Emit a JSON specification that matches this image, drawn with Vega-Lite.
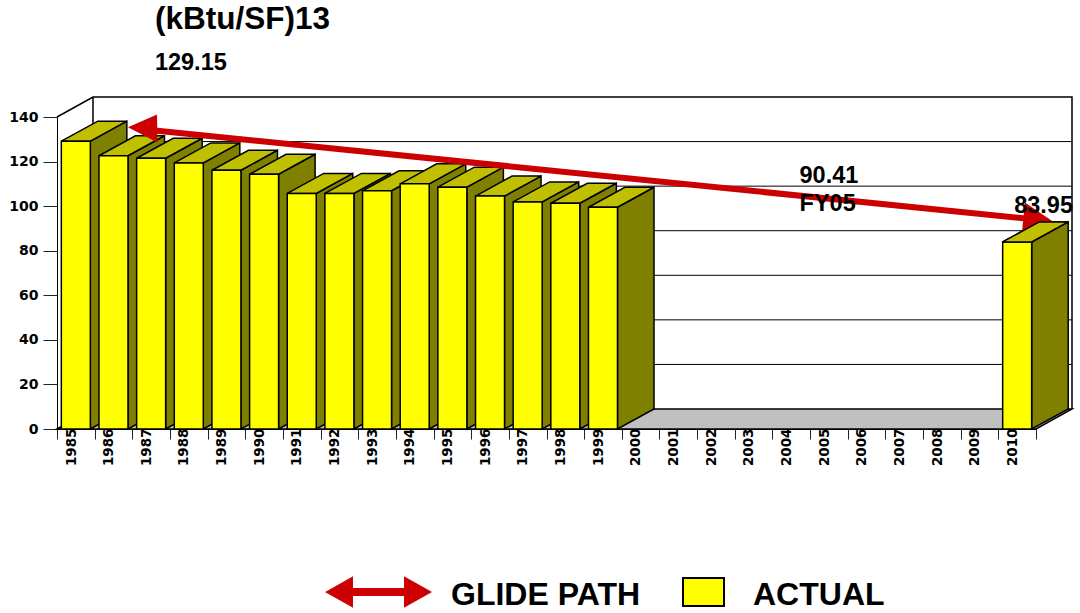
{
"$schema":"https://vega.github.io/schema/vega-lite/v6.json",
"width":979,"height":312,
"autosize":{"type":"none"},
"padding":{"left":57,"top":117,"right":44,"bottom":184},
"background":"white",
"config":{"view":{"stroke":null},"font":"Liberation Sans"},
"datasets":{
"bars":[{"year":1985,"value":129.15},{"year":1986,"value":122.6},{"year":1987,"value":121.5},{"year":1988,"value":119.4},{"year":1989,"value":116.1},{"year":1990,"value":114.3},{"year":1991,"value":105.7},{"year":1992,"value":105.7},{"year":1993,"value":106.9},{"year":1994,"value":110},{"year":1995,"value":108.5},{"year":1996,"value":104.5},{"year":1997,"value":101.9},{"year":1998,"value":101.3},{"year":1999,"value":99.5},{"year":2010,"value":83.95}],
"origin":[{"year":1984.5,"value":0}],
"ticks":[{"value":20,"year":1984.5,"end":2010.5},{"value":40,"year":1984.5,"end":2010.5},{"value":60,"year":1984.5,"end":2010.5},{"value":80,"year":1984.5,"end":2010.5},{"value":100,"year":1984.5,"end":2010.5},{"value":120,"year":1984.5,"end":2010.5}]
},
"encoding":{
"x":{"field":"year","type":"quantitative","title":null,"scale":{"domain":[1984.5,2010.5],"nice":false,"zero":false,"padding":0},
"axis":{"values":[1984.5,1985.5,1986.5,1987.5,1988.5,1989.5,1990.5,1991.5,1992.5,1993.5,1994.5,1995.5,1996.5,1997.5,1998.5,1999.5,2000.5,2001.5,2002.5,2003.5,2004.5,2005.5,2006.5,2007.5,2008.5,2009.5,2010.5],"labelExpr":"datum.value>2010 ? '' : format(datum.value+0.5,'d')","labelAngle":-90,"labelAlign":"right","labelBaseline":"middle","labelOffset":14,"labelPadding":-11,"tickSize":10,"tickColor":"#222","domainColor":"black","labelFont":"DejaVu Sans","labelFontWeight":"bold","labelFontSize":13.5,"labelColor":"black","grid":false,"labelOverlap":false,"labelBound":false,"labelFlush":false}},
"y":{"field":"value","type":"quantitative","title":null,"scale":{"domain":[0,140],"nice":false},
"axis":{"values":[0,20,40,60,80,100,120,140],"tickSize":14,"tickColor":"#222","domainColor":"black","labelPadding":5,"labelFont":"DejaVu Sans","labelFontWeight":"bold","labelFontSize":14,"labelColor":"black","grid":false,"labelOverlap":false}}
},
"layer":[
{"data":{"name":"origin"},"mark":{"type":"point","filled":true,"size":4,"fill":"#C0C0C0","stroke":"black","strokeWidth":1.5,"opacity":1,"shape":"M0 0 L36 -20 L1015 -20 L979 0 Z"}},
{"data":{"name":"ticks"},"mark":{"type":"rule","color":"black","stroke":"black","strokeWidth":1,"opacity":1,"xOffset":36,"x2Offset":36,"yOffset":-20},"encoding":{"x2":{"field":"end"}}},
{"data":{"name":"origin"},"mark":{"type":"point","filled":false,"size":4,"stroke":"black","strokeWidth":1.5,"opacity":1,"shape":"M0 -312 L36 -332 L1015 -332 L1015 -20 M36 -332 L36 -20"}},
{"data":{"name":"bars"},
"transform":[{"calculate":"[datum.year+0.385, datum.year+1.355]","as":"sx"},{"calculate":"[datum.value, datum.value+8.97]","as":"sy"},{"calculate":"[0, 8.97]","as":"sy2"},{"flatten":["sx","sy","sy2"]}],
"mark":{"type":"area","fill":"#808000","stroke":"black","strokeWidth":1.5,"opacity":1},
"encoding":{"x":{"field":"sx","type":"quantitative","title":null,"scale":{"domain":[1984.5,2010.5],"nice":false,"zero":false,"padding":0}},"y":{"field":"sy","type":"quantitative","title":null,"scale":{"domain":[0,140],"nice":false},"stack":null},"y2":{"field":"sy2"},"detail":{"field":"year"}}},
{"data":{"name":"bars"},"mark":{"type":"point","filled":true,"size":4,"fill":"#C0C000","stroke":"black","strokeWidth":1.5,"opacity":1,"shape":"M-14.5 0 L14.5 0 L51 -20 L22 -20 Z"}},
{"data":{"name":"bars"},"mark":{"type":"bar","size":29,"orient":"vertical","fill":"#FFFF00","stroke":"black","strokeWidth":1.5}},
{"data":{"values":[{"year":1986.97,"value":134.2},{"year":2010.47,"value":94}]},"mark":{"type":"line","stroke":"#CC0000","strokeWidth":6}},
{"data":{"values":[{"year":1986.386,"value":135.4}]},"mark":{"type":"point","filled":true,"size":4,"fill":"#CC0000","strokeWidth":0,"opacity":1,"shape":"M0 0 L29 -12.7 L29.5 15.3 Z"}},
{"data":{"values":[{"year":2010.95,"value":93.1}]},"mark":{"type":"point","filled":true,"size":4,"fill":"#CC0000","strokeWidth":0,"opacity":1,"shape":"M0 0 L-28 -19 L-31 11 Z"}},
{"data":{"name":"bars"},"transform":[{"filter":"datum.year==2010"}],"mark":{"type":"point","filled":true,"size":4,"fill":"#C0C000","stroke":"black","strokeWidth":1.5,"opacity":1,"shape":"M-14.5 0 L14.5 0 L51 -20 L22 -20 Z"}},
{"data":{"values":[{"label":"(kBtu/SF)13","year":1987.1,"value":179.3}]},"mark":{"type":"text","align":"left","baseline":"alphabetic","font":"Liberation Sans","fontWeight":"bold","fontSize":31.5,"color":"black"},"encoding":{"text":{"field":"label"}}},
{"data":{"values":[{"label":"129.15","year":1987.1,"value":161.3},{"label":"90.41","year":2004.22,"value":110.2},{"label":"FY05","year":2004.22,"value":98},{"label":"83.95","year":2009.92,"value":96.7}]},"mark":{"type":"text","align":"left","baseline":"alphabetic","font":"Liberation Sans","fontWeight":"bold","fontSize":23.5,"color":"black"},"encoding":{"text":{"field":"label"}}},
{"data":{"values":[{"series":"GLIDE PATH","year":2000,"value":50},{"series":"ACTUAL","year":2000,"value":50}]},
"mark":{"type":"point","filled":true,"opacity":0},
"encoding":{
"color":{"field":"series","type":"nominal","scale":{"domain":["GLIDE PATH","ACTUAL"],"range":["#CC0000","#FFFF00"]},"legend":{"title":null,"orient":"none","legendX":342,"legendY":462,"direction":"horizontal","symbolSize":4,"symbolOpacity":1,"symbolStrokeWidth":2,"labelOffset":20,"columnPadding":38,"labelFont":"Liberation Sans","labelFontWeight":"bold","labelFontSize":32,"labelColor":"black","labelLimit":400,"values":["GLIDE PATH","ACTUAL"],"encode":{"symbols":{"update":{"fill":{"scale":"color","field":"value"}}}}}},
"stroke":{"field":"series","type":"nominal","scale":{"domain":["GLIDE PATH","ACTUAL"],"range":["#CC0000","#000000"]}},
"shape":{"field":"series","type":"nominal","scale":{"domain":["GLIDE PATH","ACTUAL"],"range":["M-88 -3 L-63 -17 L-63 -6 L-10 -6 L-10 -17 L15 -3 L-10 11 L-10 0 L-63 0 L-63 11 Z","M-34 -17 L7 -17 L7 11 L-34 11 Z"]}}
}}
]
}
